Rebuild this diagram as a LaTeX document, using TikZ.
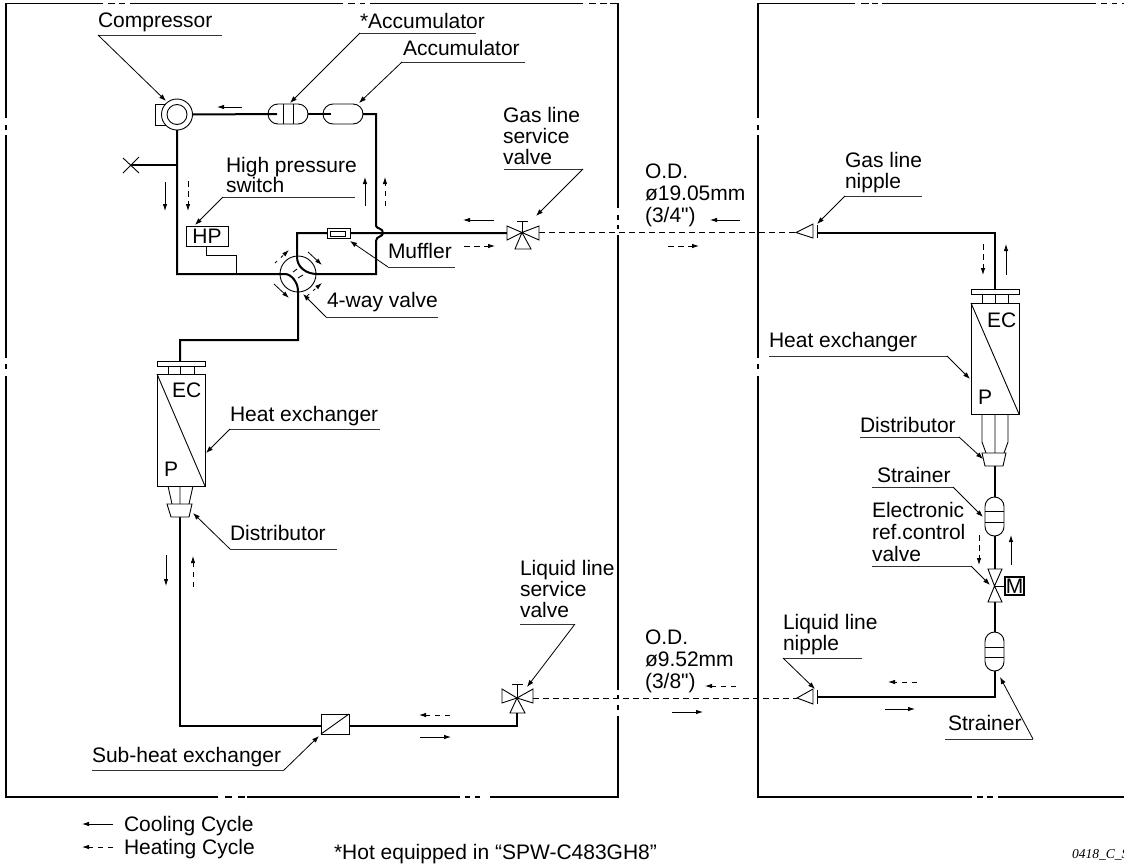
\documentclass[tikz,border=0pt]{standalone}
\usepackage{fontspec}
\setmainfont{Liberation Sans}
\newfontfamily\plainfont{Liberation Sans}
\newfontfamily\codefont{Liberation Serif}
\usetikzlibrary{arrows.meta,shapes.misc}
\tikzset{
 x=1pt,y=-1pt,
 pipe/.style={line width=2pt,line join=miter},
 frm/.style={line width=1.2pt},
 part/.style={line width=0.9pt,fill=white,line join=miter},
 wire/.style={line width=0.9pt},
 box/.style={draw,line width=0.9pt,fill=white,inner sep=0pt,outer sep=0pt},
 capsule/.style={draw,line width=0.9pt,fill=white,rounded rectangle,inner sep=0pt,outer sep=0pt},
 lead/.style={line width=0.8pt,black!80},
 ptr/.style={line width=0.8pt,-{Latex[length=7pt,width=5pt]}},
 cool/.style={line width=0.8pt,-{Latex[length=7pt,width=4.5pt]}},
 heat/.style={line width=0.8pt,dash pattern=on 5.5pt off 4.5pt,-{Latex[length=7pt,width=4.5pt]}},
 refline/.style={line width=0.8pt,dash pattern=on 6pt off 4pt},
 lbl/.style={inner sep=0pt,outer sep=0pt,anchor=base west,font=\fontsize{21}{24}\selectfont},
}
% leader line: name, far end x, near end x, y, tip
\newcommand\callout[6]{%
 \coordinate (#1-a) at (#2,#4);
 \coordinate (#1-b) at (#3,#4);
 \coordinate (#1-t) at (#5,#6);
 \draw[lead] (#1-a) -- (#1-b);
 \draw[ptr] (#1-b) -- (#1-t);
}
% side-view valve triangles
\newcommand\tri[4]{\draw[part] (#1) -- (#2,#3) -- (#2,#4) -- cycle;}
\begin{document}
\begin{tikzpicture}
\useasboundingbox (0,0) rectangle (1124,865);
% ---------- frames ----------
\draw[frm] (6,118) -- (6,3.5) -- (103,3.5);
\draw[frm] (108,3.5) -- (115,3.5) (119,3.5) -- (125,3.5);
\draw[frm] (130,3.5) -- (343,3.5) (348,3.5) -- (355,3.5) (360,3.5) -- (365,3.5);
\draw[frm] (370,3.5) -- (583,3.5) (589,3.5) -- (596,3.5) (600,3.5) -- (607,3.5);
\draw[frm] (610,3.5) -- (618,3.5) -- (618,208) (618,215) -- (618,220) (618,225) -- (618,229);
\draw[frm] (618,235) -- (618,690) (618,695) -- (618,699) (618,705) -- (618,710);
\draw[frm] (618,716) -- (618,797) -- (490,797);
\draw[frm] (465,797) -- (470,797) (475,797) -- (480,797);
\draw[frm] (460,797) -- (247,797) (225,797) -- (232,797) (238,797) -- (245,797);
\draw[frm] (218,797) -- (6,797) -- (6,376);
\draw[frm] (6,369) -- (6,364) (6,358) -- (6,135) (6,130) -- (6,125);
\draw[frm] (758,118) -- (758,3.5) -- (855,3.5);
\draw[frm] (861,3.5) -- (869,3.5) (872,3.5) -- (878,3.5);
\draw[frm] (882,3.5) -- (1096,3.5) (1101,3.5) -- (1107,3.5) (1112,3.5) -- (1117,3.5) (1122,3.5) -- (1124,3.5);
\draw[frm] (758,125) -- (758,130) (758,135) -- (758,358) (758,364) -- (758,369);
\draw[frm] (758,376) -- (758,797) -- (972,797);
\draw[frm] (977,797) -- (983,797) (987,797) -- (993,797);
\draw[frm] (998,797) -- (1124,797);

% ---------- refrigerant lines between the units ----------
\coordinate (gasv) at (522,232.5);
\coordinate (liqv) at (517,698);
\coordinate (gasn) at (796,232.5);
\coordinate (liqn) at (797,698);
\draw[refline] (gasv) ++(17,0) -- (gasn);
\draw[refline] (liqv) ++(16,0) -- (liqn);

% ---------- compressor and accumulators ----------
\node[box,minimum width=21pt,minimum height=21pt,anchor=west] (compbox) at (155,114.5) {};
\node[circle,draw,line width=0.9pt,fill=white,minimum size=31pt,inner sep=0pt,outer sep=0pt] (comp) at (177,114.5) {};
\node[circle,draw,line width=0.9pt,minimum size=20pt,inner sep=0pt] (compin) at (177,114.5) {};
\node[capsule,minimum width=40pt,minimum height=20pt] (acc1) at (288,114) {};
\node[capsule,minimum width=40pt,minimum height=20pt] (acc2) at (343,114) {};
\draw[wire] (283,104) -- (283,124) (293,104) -- (293,124);
\coordinate (acc1in) at (277,114);
\coordinate (acc2in) at (331,114);
\coordinate (tr) at (376,114);
\draw[pipe] (comp.east) -- (acc1in);
\draw[pipe] (acc1.east) -- (acc2in);
\draw[pipe] (acc2.east) -- (tr) -- (376,226) .. controls (377,229) and (383,228) .. (383,233) .. controls (383,237) and (376,236) .. (376,241) -- (376,274) -- (317,274) .. controls (306,274) and (297,267) .. (297,257) -- (297,233) -- (507,233);

% ---------- left pipe ----------
\coordinate (xm) at (131,165);
\draw[pipe] (comp.south) -- (177,274) -- (285,274) .. controls (291,274) and (298,282) .. (298,291) -- (298,340) -- (180,340) -- (180,361);
\draw[pipe] (177,165) -- (xm);
\draw[wire] (123,158) -- (139,173) (139,157) -- (123,173);

% ---------- high pressure switch ----------
\node[box,minimum width=42pt,minimum height=20pt,anchor=north west,font=\fontsize{21}{24}\selectfont] (hp) at (186,226) {HP};
\draw[wire] (206,246) -- (206,255) -- (236,255) -- (236,274);

% ---------- muffler ----------
\node[box,minimum width=23pt,minimum height=10pt,anchor=north west] (muf) at (327,228) {};
\node[box,minimum width=15pt,minimum height=5pt,anchor=north west] (mufin) at (330,231) {};

% ---------- 4-way valve ----------
\node[circle,draw,line width=0.9pt,minimum size=36pt,inner sep=0pt] (fourway) at (298,274) {};
\draw[cool] (308,252) -- (322,265);
\draw[cool] (274,284) -- (289,298);
\draw[heat,dash pattern=on 3pt off 5pt] (275,263) -- (289,250);
\draw[heat,dash pattern=on 3pt off 5pt] (307,296) -- (322,283);
\draw[wire] (293,272) -- (297,269) (298,278) -- (303,275);

% ---------- gas line service valve ----------
\draw[wire] (522,232.5) -- (522,221) (517,221) -- (528,221);
\tri{gasv}{507}{226}{240}
\tri{gasv}{539}{226}{240}
\draw[part] (gasv) -- (515,249) -- (531,249) -- cycle;

% ---------- liquid line service valve ----------
\draw[wire] (517,698) -- (517,684) (512,684) -- (523,684);
\tri{liqv}{502}{689}{703}
\tri{liqv}{533}{689}{703}
\draw[part] (liqv) -- (510,713) -- (525,713) -- cycle;
\draw[pipe] (517,713) -- (517,726) -- (180,726) -- (180,517);

% ---------- sub-heat exchanger ----------
\node[box,minimum width=28pt,minimum height=20pt,anchor=north west] (sub) at (321,714) {};
\draw[wire] (sub.south west) -- (sub.north east);

% ---------- left heat exchanger ----------
\node[box,minimum width=48pt,minimum height=5pt,anchor=north west] (lflange) at (157,361) {};
\draw[wire] (168,366) -- (168,374) (180.5,366) -- (180.5,374) (194,366) -- (194,374);
\node[box,minimum width=48pt,minimum height=112pt,anchor=north west] (lhx) at (157,374) {};
\draw[wire] (lhx.north west) -- (lhx.south east);
\node[lbl] (lec) at (172,397) {EC};
\node[lbl] (lp) at (164,476) {P};
\draw[wire] (168,486) -- (172,504) (180,486) -- (180,504) (193,486) -- (189,504);
\draw[part] (167,504) -- (192,504) -- (189,517) -- (171,517) -- cycle;

% ---------- right side ----------
\coordinate (rt) at (995,232);
\draw[pipe] (817,232.5) -- (995,232.5) -- (995,289);
\node[box,minimum width=48pt,minimum height=5pt,anchor=north west] (rflange) at (971,289) {};
\draw[wire] (982,294) -- (982,303) (995,294) -- (995,303) (1008,294) -- (1008,303);
\node[box,minimum width=48pt,minimum height=111pt,anchor=north west] (rhx) at (971,303) {};
\draw[wire] (rhx.north west) -- (rhx.south east);
\node[lbl] (rec) at (987,327) {EC};
\node[lbl] (rp) at (978,404) {P};
\draw[wire] (982,414) -- (982,442) -- (986,453) (995,414) -- (995,453) (1008,414) -- (1008,442) -- (1004,453);
\draw[part] (982,453) -- (1006,453) -- (1003,466) -- (985,466) -- cycle;
\draw[pipe] (994.5,466) -- (994.5,497);
\node[capsule,rotate=90,minimum width=39pt,minimum height=19pt] (str1) at (994.5,516.5) {};
\draw[wire] (985,511) -- (1004,511) (985,522) -- (1004,522);
\draw[pipe] (str1.west) -- (994.5,569);
\coordinate (evv) at (994.5,586);
\draw[wire] (evv) -- (1005,586);
\draw[part] (evv) -- (988,569) -- (1002,569) -- cycle;
\draw[part] (evv) -- (988,602) -- (1002,602) -- cycle;
\node[box,line width=1.3pt,minimum width=19pt,minimum height=18pt,anchor=north west,font=\fontsize{21}{24}\selectfont] (mbox) at (1005,577) {M};
\draw[pipe] (994.5,602) -- (994.5,632);
\node[capsule,rotate=90,minimum width=39pt,minimum height=19pt] (str2) at (994.5,651.5) {};
\draw[wire] (985,647) -- (1004,647) (985,657) -- (1004,657);
\draw[pipe] (str2.west) -- (994.5,697) -- (817,697);

% nipples
\tri{gasn}{813}{224}{238}
\draw[wire] (817,225) -- (817,238);
\tri{liqn}{813}{689}{704}
\draw[wire] (817,690) -- (817,704);

% ---------- flow arrows ----------
\draw[cool] (242,107) -- (217,107);
\draw[cool] (365,206) -- (365,177);
\draw[heat] (385,206) -- (385,177);
\draw[cool] (165,182) -- (165,211);
\draw[heat] (188,181) -- (188,211);
\draw[cool] (494,220) -- (463,220);
\draw[heat] (464,246) -- (495,246);
\draw[cool] (740,220) -- (710,220);
\draw[heat] (668,246) -- (699,246);
\draw[heat] (983,244) -- (983,275);
\draw[cool] (1006,275) -- (1006,244);
\draw[cool] (166,555) -- (166,586);
\draw[heat] (193,587) -- (193,556);
\draw[cool] (1011,565) -- (1011,535);
\draw[heat] (979,535) -- (979,565);
\draw[heat] (917,682) -- (888,682);
\draw[cool] (885,709) -- (915,709);
\draw[heat] (736,686) -- (705,686);
\draw[cool] (672,712) -- (703,712);
\draw[heat] (450,715) -- (419,715);
\draw[cool] (420,737) -- (451,737);

% ---------- callouts and labels ----------
\node[lbl] (tcomp) at (98,27) {Compressor};
\callout{lcomp}{222}{98}{35}{166}{101}
\node[lbl] (tacc1) at (360,28) {*Accumulator};
\callout{lacc1}{476}{360}{33}{290}{103}
\node[lbl] (tacc2) at (403,55) {Accumulator};
\callout{lacc2}{525}{402}{62}{359}{103}
\node[lbl] (thp1) at (226,172) {High pressure};
\node[lbl] (thp2) at (226,192) {switch};
\callout{lhp}{355}{223}{197}{195}{225}
\node[lbl] (tmuf) at (388,258) {Muffler};
\callout{lmuf}{455}{388}{267}{350}{241}
\node[lbl] (t4w) at (327,307) {4-way valve};
\callout{l4w}{438}{326}{317}{303}{294}
\node[lbl] (tg1) at (503,122) {Gas line};
\node[lbl] (tg2) at (503,143) {service};
\node[lbl] (tg3) at (503,164) {valve};
\callout{lg}{504}{583}{169}{536}{216}
\node[lbl] (td1) at (645,178) {O.D.};
\node[lbl] (td2) at (645,200) {ø19.05mm};
\node[lbl] (td3) at (645,222) {\plainfont(3/4")};
\node[lbl] (tn1) at (845,167) {Gas line};
\node[lbl] (tn2) at (845,188) {nipple};
\callout{ln}{922}{845}{196}{817}{224}
\node[lbl] (the) at (230,421) {Heat exchanger};
\callout{lhe}{380}{230}{429}{206}{453}
\node[lbl] (tdis) at (230,540) {Distributor};
\callout{ldis}{337}{230}{549}{193}{513}
\node[lbl] (trhe) at (769,347) {Heat exchanger};
\callout{lrhe}{769}{947}{356}{970}{379}
\node[lbl] (trdis) at (860,432) {Distributor};
\callout{lrdis}{860}{959}{437}{983}{459}
\node[lbl] (tstr) at (877,482) {Strainer};
\callout{lstr}{872}{953}{487}{983}{517}
\node[lbl] (te1) at (872,517) {Electronic};
\node[lbl] (te2) at (872,539) {ref.control};
\node[lbl] (te3) at (872,561) {valve};
\callout{le}{872}{971}{566}{990}{585}
\node[lbl] (tstr2) at (948,730) {Strainer};
\callout{lstr2}{945}{1033}{739}{1000}{677}
\node[lbl] (tl1) at (520,575) {Liquid line};
\node[lbl] (tl2) at (520,596) {service};
\node[lbl] (tl3) at (520,617) {valve};
\callout{ll}{520}{575}{624}{527}{687}
\node[lbl] (tod1) at (645,644) {O.D.};
\node[lbl] (tod2) at (645,666) {ø9.52mm};
\node[lbl] (tod3) at (645,688) {\plainfont(3/8")};
\node[lbl] (tln1) at (783,629) {Liquid line};
\node[lbl] (tln2) at (783,650) {nipple};
\callout{lln}{862}{783}{658}{815}{689}
\node[lbl] (tsub) at (92,762) {Sub-heat exchanger};
\callout{lsub}{92}{284}{770}{319}{736}

% ---------- legend ----------
\coordinate (lg1a) at (113,824); \coordinate (lg1b) at (82,824);
\coordinate (lg2a) at (113,847); \coordinate (lg2b) at (82,847);
\draw[cool] (lg1a) -- (lg1b);
\draw[heat] (lg2a) -- (lg2b);
\node[lbl] (tcool) at (124,831) {Cooling Cycle};
\node[lbl] (theat) at (124,854) {Heating Cycle};
\node[lbl] (thot) at (334,859) {*Hot equipped in “SPW-C483GH8”};
\node[inner sep=0pt,anchor=base west,font=\fontsize{13.5}{15}\selectfont\codefont\itshape] (tcode) at (1072,858) {0418\_C\_S};
\end{tikzpicture}
\end{document}
